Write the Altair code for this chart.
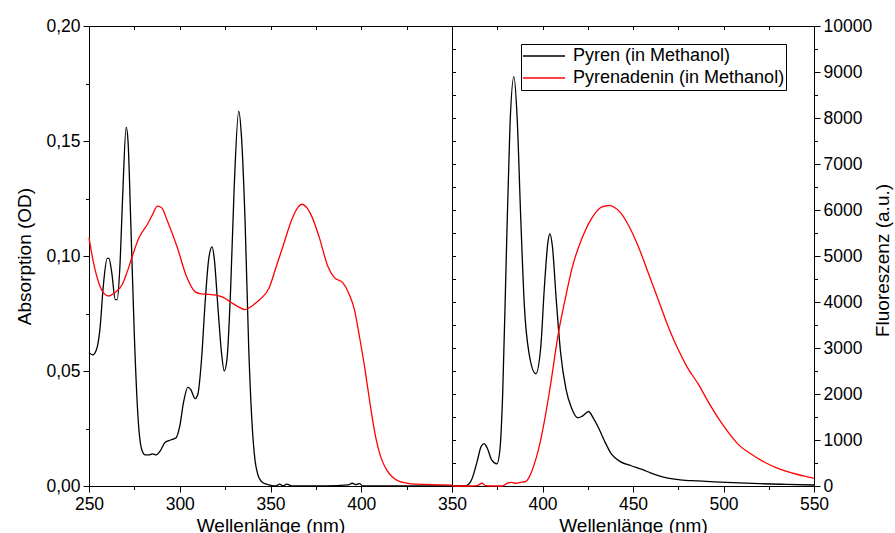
import altair as alt
import pandas as pd

FONT = "Liberation Sans"
SERIES = ["Pyren (in Methanol)", "Pyrenadenin (in Methanol)"]
COLORS = ["#000000", "#ff0000"]

# ---- Absorption (left panel) ----
abs_pyren_nm = [250, 252, 254, 256, 258, 260, 261, 262.5, 264.5, 265.5, 267, 268.5, 270.5, 271.5,
                273, 275, 277, 279, 281, 283, 285, 287, 289, 292, 295, 298, 300, 302, 304.5, 306,
                308.5, 310, 312, 314, 316, 317.8, 319, 321, 323, 324.5, 326, 328, 330, 332.5, 334,
                336, 338, 340, 341.5, 343, 345, 347, 350, 353, 355, 357, 359, 362, 380, 393, 395,
                397, 399, 401, 420, 450]
abs_pyren_od = [0.058, 0.057, 0.059, 0.068, 0.088, 0.099, 0.099, 0.093, 0.081, 0.081, 0.095, 0.125,
                0.156, 0.150, 0.115, 0.065, 0.030, 0.016, 0.0135, 0.0135, 0.014, 0.0135, 0.015,
                0.019, 0.020, 0.021, 0.026, 0.036, 0.043, 0.042, 0.038, 0.040, 0.055, 0.080, 0.099,
                0.104, 0.099, 0.078, 0.058, 0.050, 0.055, 0.085, 0.130, 0.163, 0.152, 0.115, 0.060,
                0.025, 0.011, 0.005, 0.002, 0.001, 0.0003, 0.0, 0.0008, 0.0, 0.0008, 0.0, 0.0,
                0.0005, 0.0012, 0.0006, 0.0010, 0.0, 0.0, 0.0]

abs_pyrenadenin_nm = [250, 252, 254, 256, 258, 261, 264, 268.4, 271, 273.9, 277.6, 282.2, 285, 287.7,
                      290, 293.2, 298.7, 303.3, 308.8, 312, 316.2, 320, 324, 328, 332, 336, 338.3,
                      341, 344, 349.3, 353, 356.6, 362.2, 365, 367.3, 370, 372.3, 376.9, 381.5,
                      385.2, 389.8, 393.4, 396.2, 399, 402, 405, 408, 411, 414, 417, 421, 430, 450]
abs_pyrenadenin_od = [0.108, 0.099, 0.092, 0.087, 0.084, 0.0826, 0.084, 0.0877, 0.093, 0.100, 0.108,
                      0.1138, 0.118, 0.1217, 0.121, 0.1152, 0.1036, 0.092, 0.0843, 0.0835, 0.0833,
                      0.083, 0.082, 0.080, 0.078, 0.0767, 0.0775, 0.079, 0.081, 0.0862, 0.095, 0.1036,
                      0.1167, 0.121, 0.1225, 0.121, 0.118, 0.108, 0.0957, 0.0906, 0.0884, 0.0833,
                      0.0768, 0.065, 0.051, 0.035, 0.021, 0.012, 0.007, 0.004, 0.002, 0.0008, 0.0004]

# ---- Fluorescence (right panel) ----
fl_pyren_nm = [350, 355, 358, 361, 364, 366, 367.7, 369.5, 372, 374.8, 376.5, 378, 380, 382, 384.2,
               386, 388, 390, 392.5, 396.3, 399, 401, 403, 404, 405.5, 407.5, 410, 413, 416, 419.5,
               422, 425.5, 428, 431, 434, 438, 443, 449, 455, 460, 468, 476, 486, 495, 505, 520,
               535, 550]
fl_pyren_int = [0, 0, 10, 150, 550, 850, 920, 820, 560, 480, 800, 2000, 5000, 7800, 8900, 8000, 5800,
                3900, 2900, 2440, 3000, 4300, 5300, 5480, 5200, 4100, 2900, 2100, 1700, 1480, 1520,
                1620, 1480, 1260, 1000, 700, 530, 440, 360, 280, 180, 135, 110, 90, 72, 50, 35, 22]

fl_pyrenadenin_nm = [350, 360, 364, 366.5, 368.5, 372, 378, 381, 383, 385, 388, 390.8, 393, 395.5,
                     398, 401, 403.9, 409, 412.7, 416.4, 421.9, 427.4, 432, 434.8, 437, 439.4, 443.1,
                     447.7, 453.2, 458.7, 464.2, 469.7, 474.9, 480, 486, 492, 497, 503, 508, 515,
                     523, 529, 534, 541, 548.6, 550]
fl_pyrenadenin_int = [0, 0, 10, 60, 10, 0, 0, 70, 80, 60, 80, 100, 220, 480, 830, 1400, 2065, 3370,
                      4094, 4746, 5398, 5833, 6050, 6087, 6100, 6065, 5942, 5652, 5181, 4602, 4022,
                      3442, 2972, 2580, 2220, 1800, 1480, 1150, 910, 700, 510, 400, 330, 250, 180,
                      165]

# ---- axis tick values ----
x_left_ticks = list(range(250, 451, 25))
x_right_ticks = list(range(350, 551, 25))
y_abs_ticks = [round(i * 0.025, 3) for i in range(9)]
y_fl_ticks = list(range(0, 10001, 500))

abs_df = pd.concat([
    pd.DataFrame({"nm": abs_pyren_nm, "val": abs_pyren_od, "series": SERIES[0]}),
    pd.DataFrame({"nm": abs_pyrenadenin_nm, "val": abs_pyrenadenin_od, "series": SERIES[1]}),
])
fl_df = pd.concat([
    pd.DataFrame({"nm": fl_pyren_nm, "val": fl_pyren_int, "series": SERIES[0]}),
    pd.DataFrame({"nm": fl_pyrenadenin_nm, "val": fl_pyrenadenin_int, "series": SERIES[1]}),
])

W_L, W_R, H = 363, 362, 460
MAJOR, MINOR = 6, 3.5

legend = alt.Legend(title=None, orient="none", legendX=432, legendY=18, symbolType="stroke",
                    symbolSize=1764, symbolStrokeWidth=1.5, labelFont=FONT, labelFontSize=18,
                    labelColor="black", strokeColor="black", fillColor="white", padding=1,
                    rowPadding=0, clipHeight=22, labelOffset=7, labelLimit=0, cornerRadius=0)
color = alt.Color("series:N", scale=alt.Scale(domain=SERIES, range=COLORS), legend=legend)

def tick_cond(test):
    return {"condition": {"test": test, "value": MAJOR}, "value": MINOR}

# Left panel
left_lines = alt.Chart(abs_df).mark_line(strokeWidth=1.3, interpolate="monotone").encode(
    x=alt.X("nm:Q", scale=alt.Scale(domain=[250, 450], nice=False, zero=False),
            axis=alt.Axis(values=x_left_ticks, title="Wellenlänge (nm)",
                          labelExpr="datum.value % 50 == 0 && datum.value < 450 ? datum.label : ''",
                          tickSize=tick_cond("datum.value % 50 == 0"), labelFlush=False,
                          labelOverlap=False, labelPadding=3, titlePadding=4)),
    y=alt.Y("val:Q", scale=alt.Scale(domain=[0, 0.2], nice=False),
            axis=alt.Axis(values=y_abs_ticks, title="Absorption (OD)",
                          labelExpr="abs(round(datum.value*1000)) % 50 == 0 ? replace(format(datum.value, '.2f'), '.', ',') : ''",
                          tickSize=tick_cond("abs(round(datum.value*1000)) % 50 == 0"),
                          labelOverlap=False, labelFlush=False, labelPadding=3, titlePadding=11)),
    color=color,
)
left_top = alt.Chart(abs_df).mark_line(opacity=0).encode(
    x=alt.X("nm:Q", axis=alt.Axis(orient="bottom", offset=-H, values=x_left_ticks, labels=False,
                                  tickSize=MINOR, domain=False, title=None)),
    y=alt.Y("val:Q", axis=None),
)
left = alt.layer(left_lines, left_top).resolve_axis(x="independent", y="independent").properties(
    width=W_L, height=H)

# Right panel
right_lines = alt.Chart(fl_df).mark_line(strokeWidth=1.3, interpolate="monotone").encode(
    x=alt.X("nm:Q", scale=alt.Scale(domain=[350, 550], nice=False, zero=False),
            axis=alt.Axis(values=x_right_ticks, title="Wellenlänge (nm)",
                          labelExpr="datum.value % 50 == 0 ? datum.label : ''",
                          tickSize=tick_cond("datum.value % 50 == 0"), labelFlush=False,
                          labelOverlap=False, labelPadding=3, titlePadding=4)),
    y=alt.Y("val:Q", scale=alt.Scale(domain=[0, 10000], nice=False),
            axis=alt.Axis(orient="right", values=y_fl_ticks, title="Fluoreszenz (a.u.)", format="d",
                          labelExpr="datum.value % 1000 == 0 ? datum.label : ''",
                          tickSize=tick_cond("datum.value % 1000 == 0"), titleAngle=270,
                          titleBaseline="top", titleY=H / 2 + 4, labelOverlap=False,
                          labelFlush=False, labelPadding=3, titlePadding=2)),
    color=color,
)
right_top = alt.Chart(fl_df).mark_line(opacity=0).encode(
    x=alt.X("nm:Q", axis=alt.Axis(orient="bottom", offset=-H, values=x_right_ticks, labels=False,
                                  tickSize=MINOR, domain=False, title=None)),
    y=alt.Y("val:Q", axis=alt.Axis(orient="right", offset=-W_R, values=y_fl_ticks, labels=False,
                                   tickSize=MINOR, domain=False, title=None)),
)
right = alt.layer(right_lines, right_top).resolve_axis(x="independent", y="independent").properties(
    width=W_R, height=H)

chart = alt.hconcat(left, right, spacing=0, bounds="flush").properties(
    padding={"left": 15, "top": 16, "right": 0, "bottom": 5}
).configure_axis(
    labelFont=FONT, titleFont=FONT, labelFontSize=17.5, titleFontSize=19, labelColor="black",
    titleColor="black", domainColor="black", tickColor="black", titleFontWeight="normal",
    grid=False, domainWidth=1, tickWidth=1,
).configure_view(stroke="black", strokeWidth=1)

chart.save("out.html", embed_options={"renderer": "svg", "actions": False})
